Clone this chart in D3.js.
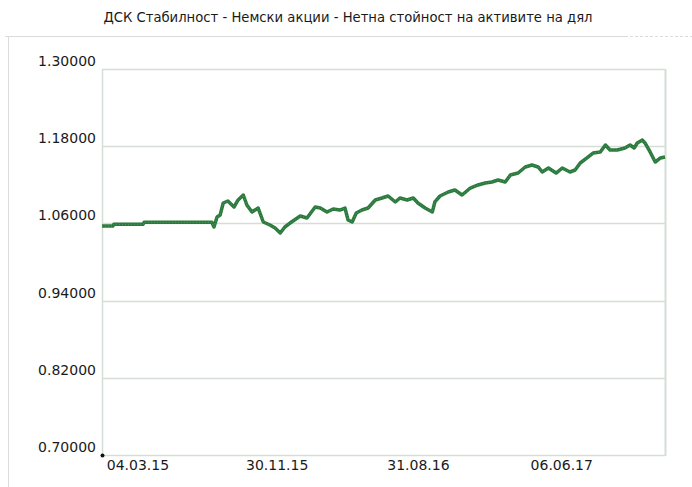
<!DOCTYPE html>
<html>
<head>
<meta charset="utf-8">
<script src="https://cdn.jsdelivr.net/npm/d3@7"></script>
<style>
  body { margin: 0; background: #fff; }
  svg { display: block; }
</style>
</head>
<body>
<svg id="chart" width="692" height="487"></svg>
<script>
// Chart text and tick labels
const title = "ДСК Стабилност - Немски акции - Нетна стойност на активите на дял";
const yTicks = [0.70, 0.82, 0.94, 1.06, 1.18, 1.30];
const xTickDates = ["2015-03-04", "2015-11-30", "2016-08-31", "2017-06-06"];

// Net asset value per unit
const navDates = [
  "2014-12-24", "2015-01-14", "2015-01-16", "2015-03-14", "2015-03-16", "2015-07-26",
  "2015-07-30", "2015-08-05", "2015-08-11", "2015-08-17", "2015-08-26", "2015-09-07",
  "2015-09-15", "2015-09-25", "2015-10-02", "2015-10-12", "2015-10-24", "2015-11-03",
  "2015-11-16", "2015-11-26", "2015-12-06", "2015-12-15", "2015-12-25", "2016-01-14",
  "2016-01-27", "2016-02-12", "2016-02-22", "2016-03-06", "2016-03-18", "2016-03-31",
  "2016-04-10", "2016-04-16", "2016-04-24", "2016-05-02", "2016-05-13", "2016-05-25",
  "2016-06-08", "2016-06-21", "2016-07-03", "2016-07-17", "2016-07-26", "2016-08-09",
  "2016-08-21", "2016-08-30", "2016-09-13", "2016-09-27", "2016-10-02", "2016-10-12",
  "2016-10-28", "2016-11-10", "2016-11-24", "2016-12-10", "2016-12-25", "2017-01-08",
  "2017-01-21", "2017-02-02", "2017-02-16", "2017-02-26", "2017-03-13", "2017-03-27",
  "2017-04-09", "2017-04-21", "2017-04-29", "2017-05-11", "2017-05-26", "2017-06-07",
  "2017-06-22", "2017-07-02", "2017-07-12", "2017-07-25", "2017-08-06", "2017-08-20",
  "2017-08-30", "2017-09-08", "2017-09-22", "2017-10-07", "2017-10-17", "2017-10-25",
  "2017-10-31", "2017-11-10", "2017-11-15", "2017-11-25", "2017-12-05", "2017-12-15",
  "2017-12-24"
];
const navValues = [
  1.0560, 1.0560, 1.0586, 1.0586, 1.0617, 1.0617,
  1.0544, 1.0700, 1.0731, 1.0917, 1.0948, 1.0855,
  1.0964, 1.1041, 1.0886, 1.0777, 1.0839, 1.0622,
  1.0575, 1.0528, 1.0451, 1.0544, 1.0606, 1.0715,
  1.0684, 1.0855, 1.0839, 1.0777, 1.0824, 1.0808,
  1.0839, 1.0653, 1.0622, 1.0762, 1.0808, 1.0839,
  1.0964, 1.0995, 1.1026, 1.0933, 1.0995, 1.0964,
  1.0995, 1.0917, 1.0839, 1.0777, 1.0933, 1.1026,
  1.1088, 1.1119, 1.1041, 1.1150, 1.1197, 1.1228,
  1.1244, 1.1275, 1.1244, 1.1352, 1.1383, 1.1477,
  1.1508, 1.1477, 1.1399, 1.1461, 1.1383, 1.1461,
  1.1399, 1.1430, 1.1539, 1.1617, 1.1694, 1.1710,
  1.1819, 1.1741, 1.1741, 1.1772, 1.1819, 1.1772,
  1.1850, 1.1896, 1.1850, 1.1710, 1.1554, 1.1617,
  1.1632
];

const palette = {
  line: "#2b7a3d",
  grid: "#d6ddd6",
  frame: "#d9dcd9",
  text: "#1a1a1a"
};

const parseDate = d3.timeParse("%Y-%m-%d");
const data = navDates.map((d, i) => ({ date: parseDate(d), value: navValues[i] }));

const svg = d3.select("#chart");
const fontFamily = "'DejaVu Sans', Verdana, sans-serif";

// outer panel frame
svg.append("line")
  .attr("x1", 8.5).attr("x2", 8.5)
  .attr("y1", 36).attr("y2", 487)
  .attr("stroke", palette.frame);
svg.append("line")
  .attr("x1", 5).attr("x2", 625)
  .attr("y1", 36.5).attr("y2", 36.5)
  .attr("stroke", palette.frame);
svg.append("line")
  .attr("x1", 625).attr("x2", 692)
  .attr("y1", 36.5).attr("y2", 36.5)
  .attr("stroke", palette.frame)
  .attr("stroke-dasharray", "3,2");

svg.append("text")
  .attr("x", 348)
  .attr("y", 22)
  .attr("text-anchor", "middle")
  .attr("fill", palette.text)
  .style("font-family", fontFamily)
  .style("font-size", "13.2px")
  .text(title);

const plot = { left: 102, right: 665, top: 69, bottom: 455 };

const x = d3.scaleTime()
  .domain([parseDate("2014-12-24"), parseDate("2017-12-24")])
  .range([plot.left, plot.right]);

const y = d3.scaleLinear()
  .domain([0.70, 1.30])
  .range([plot.bottom, plot.top]);

// horizontal grid lines
svg.append("g")
  .selectAll("line")
  .data(yTicks)
  .join("line")
    .attr("x1", plot.left)
    .attr("x2", plot.right)
    .attr("y1", d => Math.round(y(d)) + 0.5)
    .attr("y2", d => Math.round(y(d)) + 0.5)
    .attr("stroke", palette.grid)
    .attr("stroke-width", 1.5);

// plot frame sides
svg.append("line")
  .attr("x1", plot.left + 0.5).attr("x2", plot.left + 0.5)
  .attr("y1", plot.top).attr("y2", plot.bottom)
  .attr("stroke", palette.grid)
  .attr("stroke-width", 1.5);
svg.append("line")
  .attr("x1", plot.right + 0.5).attr("x2", plot.right + 0.5)
  .attr("y1", plot.top).attr("y2", plot.bottom + 1)
  .attr("stroke", palette.grid)
  .attr("stroke-width", 2);

// y tick labels
svg.append("g")
  .selectAll("text")
  .data(yTicks)
  .join("text")
    .attr("x", 96)
    .attr("y", d => y(d) - 3)
    .attr("text-anchor", "end")
    .attr("fill", palette.text)
    .style("font-family", fontFamily)
    .style("font-size", "14px")
    .text(d => d3.format(".5f")(d));

// x tick labels
const xFormat = d3.timeFormat("%d.%m.%y");
svg.append("g")
  .selectAll("text")
  .data(xTickDates.map(parseDate))
  .join("text")
    .attr("x", d => x(d))
    .attr("y", 470)
    .attr("text-anchor", "middle")
    .attr("fill", palette.text)
    .style("font-family", fontFamily)
    .style("font-size", "14px")
    .text(d => xFormat(d));

// NAV line
svg.append("path")
  .datum(data)
  .attr("fill", "none")
  .attr("stroke", palette.line)
  .attr("stroke-width", 3.5)
  .attr("stroke-linejoin", "round")
  .attr("d", d3.line()
    .x(d => x(d.date))
    .y(d => y(d.value))
  );

// dotted texture over the line
svg.append("path")
  .datum(data)
  .attr("fill", "none")
  .attr("stroke", "#5b9a68")
  .attr("stroke-width", 1)
  .attr("stroke-dasharray", "1,2")
  .attr("d", d3.line()
    .x(d => x(d.date))
    .y(d => y(d.value))
  );

// origin dot
svg.append("circle")
  .attr("cx", plot.left + 0.5)
  .attr("cy", plot.bottom + 0.5)
  .attr("r", 2)
  .attr("fill", "#111");
</script>
</body>
</html>
